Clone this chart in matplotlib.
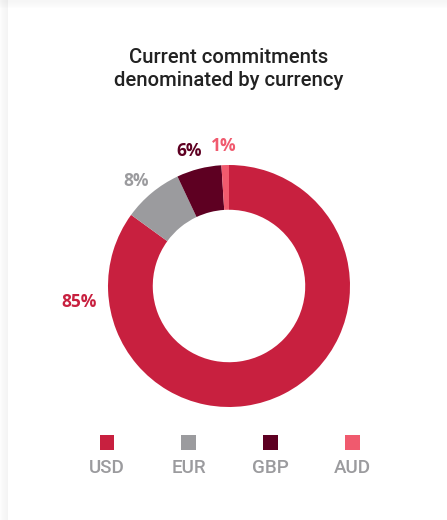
import numpy as np
import matplotlib.pyplot as plt
from matplotlib.patches import Rectangle

# data
currencies = ['USD', 'EUR', 'GBP', 'AUD']
shares = [85, 8, 6, 1]
colors = ['#C8203F', '#9B9B9E', '#5E0022', '#F05A6E']

W, H = 447, 520
fig = plt.figure(figsize=(W / 100, H / 100), dpi=100)
fig.patch.set_facecolor('white')

# card with soft shadow on the left/top
for i in range(8):
    a = 0.018 * (8 - i) / 8 + 0.004
    fig.patches.append(Rectangle(((i) / W, 0), (8 - i) / W, 1, transform=fig.transFigure,
                                 facecolor='#000000', alpha=a * 0.35, edgecolor='none'))
    fig.patches.append(Rectangle((0, 1 - (8 - i) / H), 1, (8 - i) / H, transform=fig.transFigure,
                                 facecolor='#000000', alpha=a * 0.3, edgecolor='none'))
fig.patches.append(Rectangle((8 / W, 0), 1, 1 - 8 / H, transform=fig.transFigure,
                             facecolor='white', edgecolor='none', zorder=1))

fig.text(229 / W, 1 - 69 / H, 'Current commitments\ndenominated by currency',
         ha='center', va='center', fontsize=14.6, fontfamily='Roboto', fontweight='medium',
         color='#222222', linespacing=1.3, zorder=3)

# donut: center (229, 286), outer radius 121 px
R = 121
ax = fig.add_axes([(229 - R) / W, 1 - (286 + R) / H, 2 * R / W, 2 * R / H])
ax.set_zorder(2)
wedges, _ = ax.pie(shares, colors=colors, startangle=90, counterclock=False,
                   wedgeprops=dict(width=0.37, edgecolor='none'))
ax.set_xlim(-1, 1)
ax.set_ylim(-1, 1)
ax.set_aspect('equal')
ax.axis('off')
ax.set_clip_on(False)

for i, (w, s) in enumerate(zip(wedges, shares)):
    if i == 0:
        ang, r = 186, 1.25
    else:
        ang, r = (w.theta1 + w.theta2) / 2 + min(2, s / 3), 1.16
    x = r * np.cos(np.radians(ang))
    y = r * np.sin(np.radians(ang))
    ax.text(x, y, f'{s}%', ha='center', va='center', fontsize=12.5,
            fontfamily='Open Sans', fontweight='bold', color=colors[i], clip_on=False)

# legend
xs = np.linspace(107, 352, len(currencies))
for x, c, col in zip(xs, currencies, colors):
    fig.patches.append(Rectangle(((x - 7.5) / W, 1 - (450 / H)), 15 / W, 15 / H,
                                 transform=fig.transFigure, facecolor=col, edgecolor='none', zorder=3))
    fig.text(x / W, 1 - 468 / H, c, ha='center', va='center', fontsize=13.5,
             fontfamily='Roboto', fontweight='medium', color='#9B9B9E', zorder=3)

fig.savefig('out.png', dpi=100)
